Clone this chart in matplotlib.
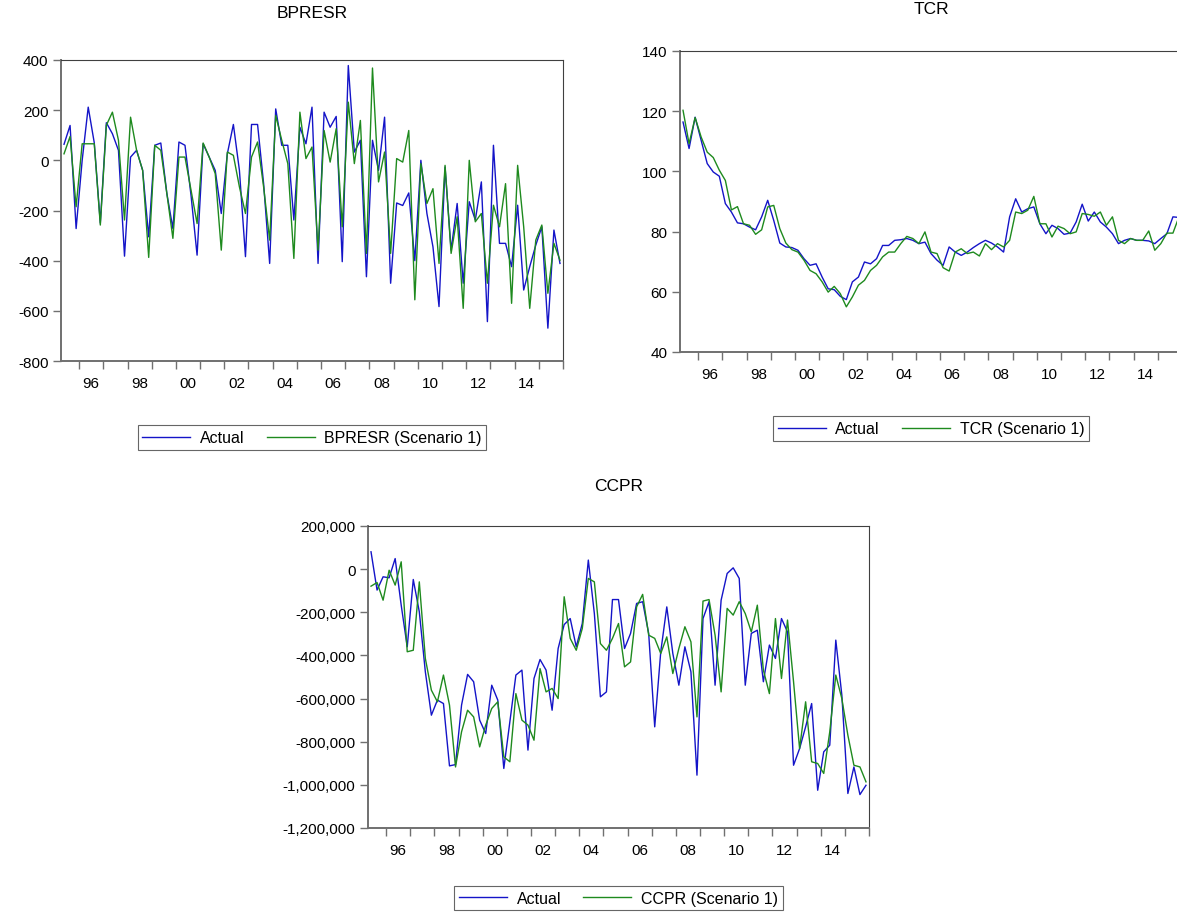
import matplotlib
matplotlib.use("Agg")
import matplotlib.pyplot as plt
from matplotlib.ticker import FixedLocator, NullFormatter, FuncFormatter
import numpy as np

plt.rcParams['font.family'] = ['Liberation Sans', 'DejaVu Sans']

# quarterly sample 1995Q2 - 2015Q4
start_year = 1995
start_q = 2
n_obs = 83

bpresr_actual = [64, 139, -272, 0, 212, 70, -250, 150, 106, 40,
                 -382, 13, 40, -40, -305, 60, 69, -132, -272, 73,
                 60, -140, -378, 66, 13, -40, -212, 26, 143, -40,
                 -384, 143, 143, -93, -411, 205, 60, 60, -238, 132,
                 66, 212, -411, 192, 132, 175, -404, 378, 33, 80,
                 -464, 80, -40, 172, -490, -170, -180, -130, -400, 0,
                 -212, -345, -583, -27, -358, -172, -490, -165, -238, -86,
                 -643, 60, -331, -331, -424, -179, -517, -424, -338, -265,
                 -669, -278, -411]
bpresr_scen = [26, 95, -185, 66, 66, 66, -258, 140, 192, 80,
               -238, 172, 40, -40, -387, 60, 40, -132, -311, 13,
               13, -119, -252, 69, 13, -53, -358, 33, 20, -106,
               -212, 13, 73, -106, -318, 179, 80, -13, -391, 192,
               7, 53, -358, 119, -7, 126, -265, 232, -13, 159,
               -371, 368, -86, 33, -371, 7, -7, 119, -556, -13,
               -172, -113, -411, -20, -371, -225, -590, 0, -245, -212,
               -490, -179, -265, -93, -570, -20, -265, -590, -318, -258,
               -530, -331, -398]

tcr_actual = [116.4, 107.6, 118.0, 110.3, 102.6, 99.8, 98.4, 89.3, 86.5, 82.9,
              82.6, 81.5, 80.6, 84.9, 90.4, 83.7, 76.2, 74.9, 74.7, 73.8,
              71.0, 68.8, 69.3, 64.9, 61.0, 60.7, 58.5, 57.4, 63.3, 64.9,
              69.9, 69.3, 71.0, 75.4, 75.4, 77.1, 77.3, 77.7, 77.1, 76.0,
              76.5, 72.7, 70.5, 68.8, 74.9, 73.2, 72.1, 73.2, 74.7, 76.0,
              77.1, 76.2, 74.9, 73.2, 84.9, 90.9, 86.5, 87.6, 88.2, 82.6,
              79.3, 82.1, 81.0, 79.1, 79.5, 83.2, 89.1, 83.5, 86.5, 83.2,
              81.5, 79.3, 76.0, 77.1, 77.7, 77.1, 77.1, 76.9, 76.0, 77.7,
              79.3, 84.9, 84.7]
tcr_scen = [120.3, 109.2, 117.9, 111.4, 106.4, 104.6, 100.4, 97.0, 87.2, 88.3,
            82.6, 82.1, 79.1, 80.6, 88.2, 88.7, 81.0, 76.2, 74.0, 73.2,
            70.5, 67.1, 66.0, 63.3, 59.9, 61.8, 59.4, 55.0, 58.3, 62.2,
            63.8, 67.1, 68.8, 71.6, 73.2, 73.2, 76.0, 78.4, 77.7, 76.0,
            79.9, 73.2, 72.7, 68.0, 66.9, 73.2, 74.3, 72.7, 73.2, 71.9,
            76.0, 74.0, 76.0, 74.9, 77.1, 86.5, 86.0, 87.1, 91.7, 82.6,
            82.6, 78.2, 81.8, 81.0, 79.3, 79.9, 86.0, 85.7, 85.1, 86.5,
            82.1, 84.9, 77.1, 76.0, 77.7, 77.1, 77.1, 80.2, 73.8, 76.0,
            79.5, 79.5, 84.9]

ccpr_actual = [80400, -97000, -35500, -40000, 49000, -167000, -360000, -48000, -198000, -476000,
               -677000, -607000, -623000, -912000, -906000, -630000, -488000, -522000, -700000, -762000,
               -538000, -607000, -924000, -708000, -491000, -468000, -839000, -507000, -419000, -468000,
               -654000, -368000, -257000, -229000, -360000, -252000, 42000, -206000, -592000, -569000,
               -141000, -141000, -368000, -298000, -159000, -151000, -298000, -731000, -383000, -175000,
               -391000, -538000, -360000, -476000, -955000, -229000, -151000, -538000, -144000, -20000,
               6000, -43000, -538000, -298000, -283000, -522000, -352000, -414000, -229000, -291000,
               -909000, -832000, -731000, -623000, -1025000, -847000, -816000, -329000, -584000, -1040000,
               -917000, -1045000, -1002000]
ccpr_scen = [-79000, -62000, -144000, -5000, -74000, 34000, -383000, -376000, -59000, -414000,
             -561000, -615000, -491000, -630000, -917000, -754000, -654000, -685000, -824000, -723000,
             -646000, -615000, -870000, -893000, -577000, -700000, -723000, -793000, -461000, -569000,
             -553000, -600000, -128000, -321000, -376000, -275000, -43000, -59000, -345000, -376000,
             -321000, -252000, -453000, -430000, -175000, -117000, -306000, -321000, -391000, -314000,
             -484000, -368000, -267000, -337000, -685000, -148000, -141000, -306000, -569000, -182000,
             -213000, -151000, -206000, -291000, -167000, -468000, -577000, -229000, -507000, -236000,
             -522000, -832000, -615000, -893000, -901000, -947000, -754000, -491000, -600000, -770000,
             -909000, -917000, -986000]

year_labels = ['96', '98', '00', '02', '04', '06', '08', '10', '12', '14']

blue = '#1414c8'
green = '#1e8a1e'
axis_gray = '#707070'

# observation dates at the middle of each quarter
t0 = start_year + (start_q - 1) / 4.0
t = t0 + 0.125 + np.arange(n_obs) / 4.0

fig = plt.figure(figsize=(11.77, 9.2), dpi=100)


def panel(rect, actual, scen, title, scen_name, ylim, yticks, yfmt, legend_y, title_pad):
    ax = fig.add_axes(rect)
    ax.plot(t, actual, color=blue, lw=1.0, label='Actual')
    ax.plot(t, scen, color=green, lw=1.0, label=scen_name)
    ax.set_xlim(t0, 2016.0)
    ax.set_ylim(*ylim)
    ax.set_yticks(yticks)
    ax.yaxis.set_major_formatter(FuncFormatter(yfmt))
    # year ticks on the boundaries, labels in the middle of even years
    ax.xaxis.set_major_locator(FixedLocator(np.arange(1996, 2017)))
    ax.xaxis.set_major_formatter(NullFormatter())
    ax.xaxis.set_minor_locator(FixedLocator(np.arange(1996, 2015, 2) + 0.5))
    ax.set_xticklabels(year_labels, minor=True)
    ax.tick_params(axis='x', which='major', length=6, width=1, color=axis_gray, direction='out')
    ax.tick_params(axis='x', which='minor', length=0, pad=11, labelsize=11)
    ax.tick_params(axis='y', length=6, width=1, color=axis_gray, labelsize=11, pad=3)
    for s in ['left', 'bottom']:
        ax.spines[s].set_color(axis_gray)
        ax.spines[s].set_linewidth(1.4)
    for s in ['top', 'right']:
        ax.spines[s].set_color('#404040')
        ax.spines[s].set_linewidth(0.8)
    ax.set_title(title, fontsize=12.5, pad=title_pad)
    leg = ax.legend(loc='center', bbox_to_anchor=(0.5, legend_y), ncol=2, frameon=True,
                    fancybox=False, edgecolor='#404040', fontsize=11.5, handlelength=3.0,
                    columnspacing=1.4, borderpad=0.3, handletextpad=0.6)
    leg.get_frame().set_linewidth(0.8)
    return ax


def fmt_int(v, pos):
    return '{:,.0f}'.format(v)


panel([61 / 1177, 1 - 362 / 920, 502 / 1177, 301 / 920], bpresr_actual, bpresr_scen,
      'BPRESR', 'BPRESR (Scenario 1)', (-800, 400), np.arange(-800, 401, 200), fmt_int,
      -0.255, 31)

panel([680 / 1177, 1 - 353 / 920, 502 / 1177, 301 / 920], tcr_actual, tcr_scen,
      'TCR', 'TCR (Scenario 1)', (40, 140), np.arange(40, 141, 20), fmt_int,
      -0.255, 27)

panel([368 / 1177, 1 - 829 / 920, 501 / 1177, 302 / 920], ccpr_actual, ccpr_scen,
      'CCPR', 'CCPR (Scenario 1)', (-1200000, 200000), np.arange(-1200000, 200001, 200000),
      fmt_int, -0.232, 26)

fig.savefig('out.png', dpi=100)
